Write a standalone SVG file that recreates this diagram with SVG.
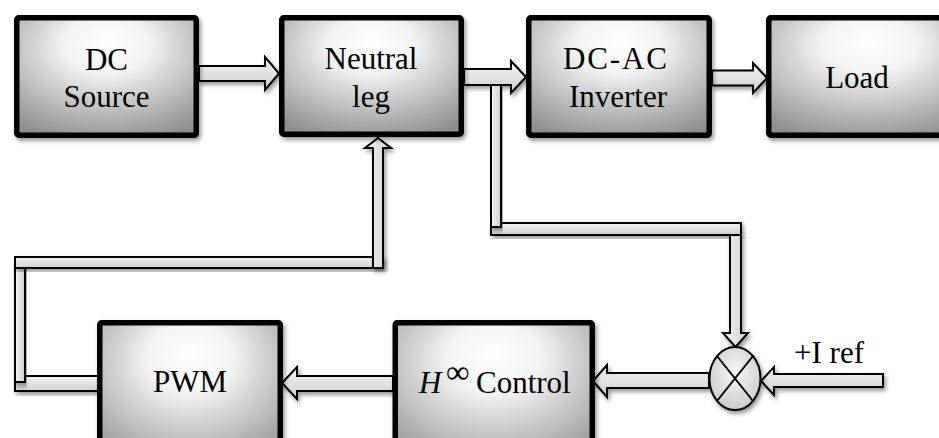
<svg xmlns="http://www.w3.org/2000/svg" width="939" height="438" viewBox="0 0 939 438">
<defs>
<radialGradient id="boxg" cx="0.5" cy="0.3" r="0.78" fx="0.5" fy="0.2">
<stop offset="0" stop-color="#ffffff"/>
<stop offset="0.3" stop-color="#f3f3f3"/>
<stop offset="1" stop-color="#8e8e8e"/>
</radialGradient>
<linearGradient id="hg" x1="0" y1="0" x2="0" y2="1">
<stop offset="0" stop-color="#f4f4f4"/>
<stop offset="1" stop-color="#cfcfcf"/>
</linearGradient>
<linearGradient id="vg" x1="0" y1="0" x2="1" y2="0">
<stop offset="0" stop-color="#f4f4f4"/>
<stop offset="1" stop-color="#cfcfcf"/>
</linearGradient>
<radialGradient id="jg" cx="0.5" cy="0.4" r="0.6">
<stop offset="0" stop-color="#f6f6f6"/>
<stop offset="1" stop-color="#cccccc"/>
</radialGradient>
<filter id="sh" x="-20%" y="-20%" width="140%" height="150%">
<feDropShadow dx="2" dy="3" stdDeviation="2" flood-color="#000" flood-opacity="0.4"/>
</filter>
</defs>
<style>
.box{fill:url(#boxg);stroke:#000;stroke-width:5.5;filter:url(#sh)}
.ah{fill:url(#hg);stroke:#000;stroke-width:2;stroke-linejoin:miter;filter:url(#sh)}
.av{fill:url(#vg);stroke:#000;stroke-width:2;stroke-linejoin:miter;filter:url(#sh)}
text{font-family:"Liberation Serif","DejaVu Serif",serif;font-size:31px;fill:#000}
.t{text-anchor:middle}
</style>
<g id="connectors">
<path class="ah" d="M199,66 H265 V57 L279,73.5 L265,90 V81 H199 Z"/>
<path class="ah" d="M464,69 H511 V61 L526,77 L511,93 V85 H464 Z"/>
<path class="ah" d="M712,70.5 H753 V63 L767,78 L753,93 V85.5 H712 Z"/>
<path class="ah" d="M491,223 H741 V235 H491 Z"/>
<path class="av" d="M491,85 H501 V227 H491 Z"/>
<path class="av" d="M730,235 H741 V333 H748 L735.5,347 L723,333 H730 Z"/>
<path class="ah" d="M883,374 V387 H774 V395 L761,381 L774,367 V374 Z"/>
<path class="ah" d="M709,373 V388 H607 V397 L593,381 L607,365 V373 Z"/>
<path class="ah" d="M393,376 V391 H297 V399 L282,383 L297,367 V376 Z"/>
<path class="ah" d="M15,376 H98 V391 H15 Z"/>
<path class="av" d="M15,262 H25 V382 H15 Z"/>
<path class="ah" d="M15,257 H383 V268 H15 Z"/>
<path class="av" d="M373,268 V148 H365 L378,138 L391,148 H383 V268 Z"/>
</g>
<g id="dc-source">
<rect class="box" x="16.75" y="17.75" width="179.5" height="117.5" rx="2"/>
<text class="t" x="106.5" y="69.5">DC</text>
<text class="t" x="106.5" y="107">Source</text>
</g>
<g id="neutral-leg">
<rect class="box" x="281.75" y="17.75" width="179.5" height="116.5" rx="2"/>
<text class="t" x="371" y="69">Neutral</text>
<text class="t" x="371" y="107">leg</text>
</g>
<g id="dc-ac-inverter">
<rect class="box" x="528.75" y="17.75" width="180.5" height="117.5" rx="2"/>
<text class="t" x="615" y="69" textLength="104" lengthAdjust="spacing">DC-AC</text>
<text class="t" x="618" y="107">Inverter</text>
</g>
<g id="load">
<rect class="box" x="768.75" y="17.75" width="200" height="117.5" rx="2"/>
<text class="t" x="857" y="88">Load</text>
</g>
<g id="pwm">
<rect class="box" x="99.75" y="322.75" width="180.5" height="150" rx="2"/>
<text class="t" x="190" y="392">PWM</text>
</g>
<g id="hinf-control">
<rect class="box" x="395.25" y="322.75" width="197" height="150" rx="2"/>
<text><tspan x="419" y="393" font-style="italic">H</tspan><tspan x="446" y="383" font-size="33">∞</tspan><tspan x="476" y="393">Control</tspan></text>
</g>
<g id="junction">
<ellipse cx="735" cy="378.5" rx="25.5" ry="31.5" fill="url(#jg)" stroke="#000" stroke-width="2" filter="url(#sh)"/>
<line x1="717" y1="356" x2="753" y2="401" stroke="#000" stroke-width="2"/>
<line x1="753" y1="356" x2="717" y2="401" stroke="#000" stroke-width="2"/>
</g>
<g id="iref-label">
<text class="t" x="829" y="363">+I ref</text>
</g>
</svg>
